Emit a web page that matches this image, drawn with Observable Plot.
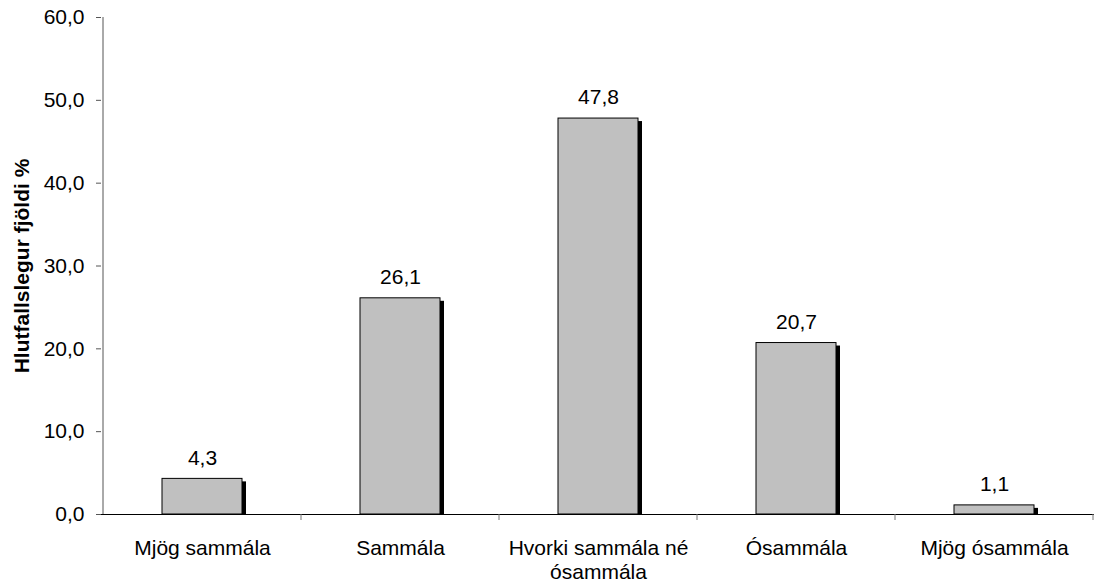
<!DOCTYPE html>
<html>
<head>
<meta charset="utf-8">
<script src="https://cdn.jsdelivr.net/npm/d3@7"></script>
<script src="https://cdn.jsdelivr.net/npm/@observablehq/plot@0.6"></script>
<style>
  html, body { margin: 0; padding: 0; background: #fff; }
</style>
</head>
<body>
<div id="chart"></div>
<script>
// Survey answers: share of respondents per answer option
const categories = ["Mjög sammála", "Sammála", "Hvorki sammála né ósammála", "Ósammála", "Mjög ósammála"];
const values = [4.3, 26.1, 47.8, 20.7, 1.1];
const yTicks = [0, 10, 20, 30, 40, 50, 60];
const yTitle = "Hlutfallslegur fjöldi %";

const data = categories.map((category, i) => ({category, value: values[i]}));

// Icelandic decimal comma, one decimal
const fmt = d => d.toFixed(1).replace(".", ",");

// Vertical axis line and small ticks between the category bands
function axisLines(index, scales) {
  const x = scales.x, y = scales.y;
  const y0 = y(0);
  const g = d3.create("svg:g").attr("fill", "none");
  const first = x(categories[0]);
  const bw = typeof x.bandwidth === "function" ? x.bandwidth() : (x(categories[1]) - first);
  const edges = categories.slice(1).map(c => x(c));
  edges.push(x(categories[categories.length - 1]) + bw);
  g.append("line")
    .attr("x1", first).attr("x2", first)
    .attr("y1", y(60)).attr("y2", y0)
    .attr("stroke", "#555");
  for (const e of edges) {
    g.append("line")
      .attr("x1", e).attr("x2", e)
      .attr("y1", y0).attr("y2", y0 + 6)
      .attr("stroke", "#777");
  }
  return g.node();
}

const chart = Plot.plot({
  width: 1094,
  height: 586,
  marginLeft: 101,
  marginRight: 0,
  marginTop: 17,
  marginBottom: 72,
  style: {
    fontFamily: "'Liberation Sans', Arial, sans-serif",
    fontSize: "21px",
    color: "#000",
    background: "#fff"
  },
  x: {domain: categories, padding: 0, label: null},
  y: {domain: [0, 60], label: null},
  marks: [
    Plot.axisY(yTicks, {tickSize: 5, tickPadding: 12, tickFormat: fmt, stroke: "#555", label: null}),
    // drop shadow behind each bar
    Plot.barY(data, {x: "category", y: "value", fill: "#000", dx: 4, insetTop: 3, insetLeft: 59, insetRight: 59}),
    Plot.barY(data, {x: "category", y: "value", fill: "#c0c0c0", stroke: "#000", strokeWidth: 1, insetLeft: 59, insetRight: 59}),
    Plot.text(data, {x: "category", y: "value", text: d => fmt(d.value), dy: -21, fill: "#000"}),
    Plot.ruleY([0], {stroke: "#000"}),
    Plot.axisX({tickSize: 0, tickPadding: 23, lineHeight: 1.15, tickFormat: d => d.replace(" né ", " né\n"), label: null}),
    axisLines,
    Plot.text([yTitle], {frameAnchor: "left", textAnchor: "middle", rotate: -90, dx: -79, fontWeight: "bold", fill: "#000"})
  ]
});

document.getElementById("chart").append(chart);
</script>
</body>
</html>
